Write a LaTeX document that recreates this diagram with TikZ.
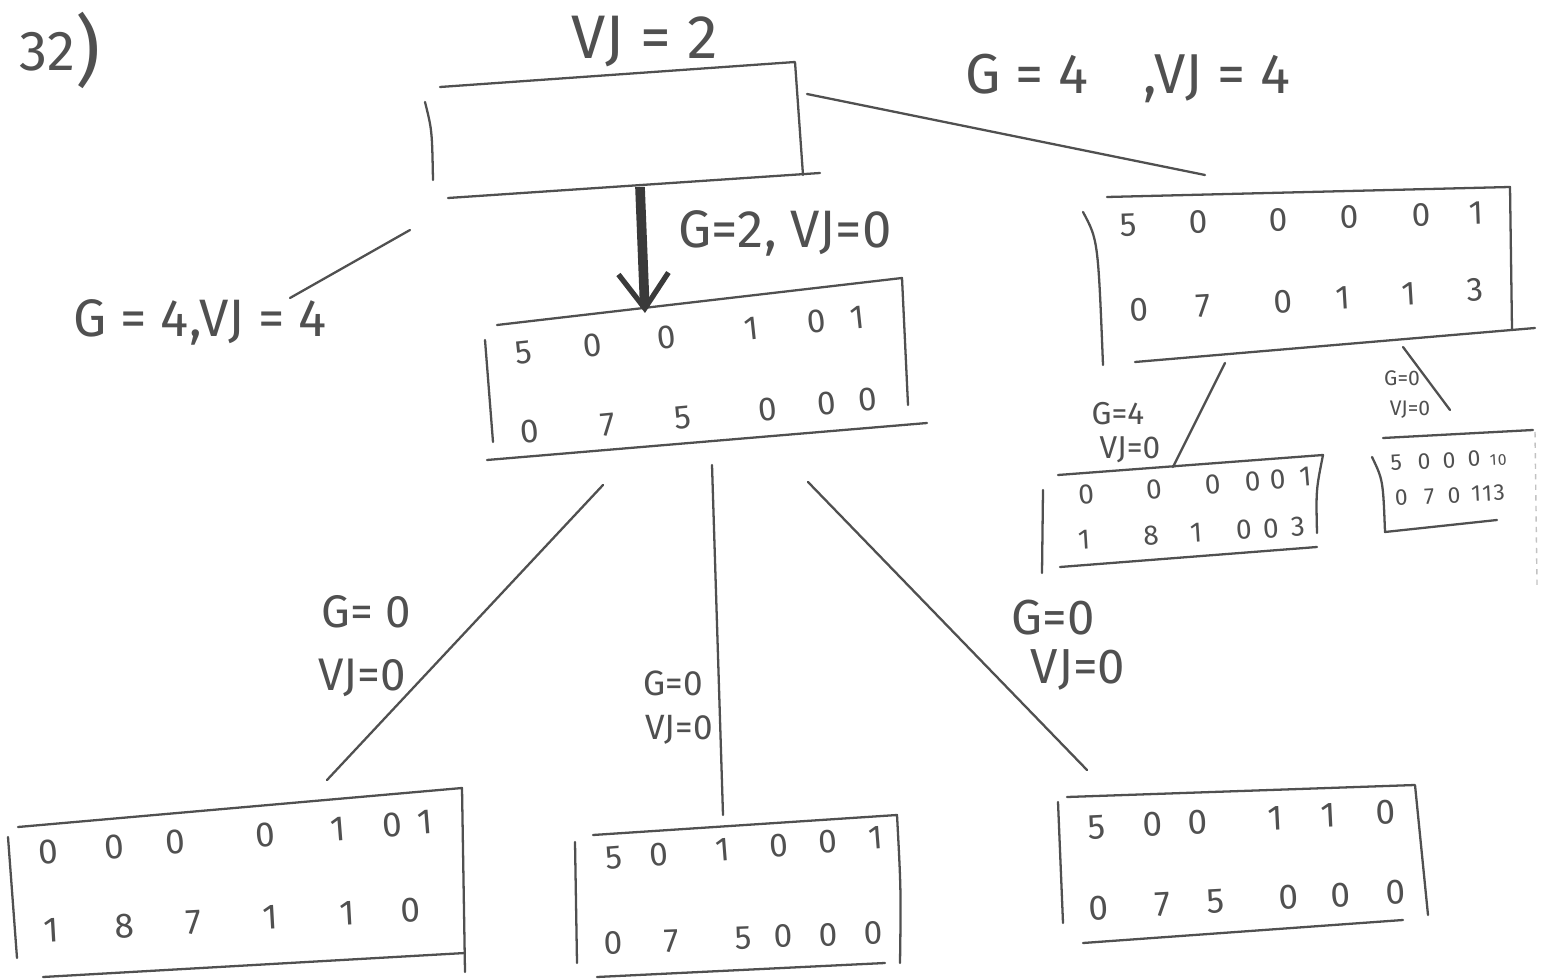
\documentclass[tikz,border=0pt]{standalone}
\usepackage{fontspec}
\setmainfont{Fira Sans}
\usetikzlibrary{arrows.meta}
\definecolor{ink}{HTML}{505050}
\definecolor{dark}{HTML}{3A3A3A}
\newlength\upx
\setlength\upx{0.02cm}
\newcommand\dg[2]{\rlap{\hspace*{#1\upx}\makebox[0pt]{#2}}}
\begin{document}
\begin{tikzpicture}[x=0.02cm,y=-0.02cm,
  pen/.style={draw=ink,line width=1.3pt,line cap=round,line join=round},
  conn/.style={draw=ink,line width=1.3pt,line cap=round},
  digrow/.style={anchor=west,inner sep=0pt,text=ink,font=\fontsize{#1}{#1}\selectfont},
  lbl/.style={inner sep=0pt,text=ink,align=center,font=\fontsize{#1}{#1}\selectfont},
]
\useasboundingbox[fill=white] (0,0) rectangle (1541,979);

% ---------- box outlines ----------
% root
\draw[pen] (440,87) -- (795,62) -- (803,175);
\draw[pen] (425,102) .. controls (432,130) .. (433,180);
\draw[pen] (448,198) -- (820,173);
% middle
\draw[pen] (497,325) -- (902,278) -- (908,405);
\draw[pen] (485,340) -- (493,442);
\draw[pen] (487,460) -- (927,423);
% right
\draw[pen] (1107,197) -- (1510,187) -- (1512,330);
\draw[pen] (1083,212) .. controls (1098,240) .. (1103,365);
\draw[pen] (1135,362) -- (1535,328);
% small left
\draw[pen] (1058,475) -- (1323,455) .. controls (1316,490) .. (1317,533);
\draw[pen] (1043,490) -- (1042,573);
\draw[pen] (1060,567) -- (1317,547);
% small right
\draw[pen] (1383,438) -- (1533,430);
\draw[pen] (1372,457) .. controls (1383,480) .. (1385,532) -- (1497,520);
\draw[draw=ink!35,line width=0.8pt,dashed] (1535,432) -- (1537,585);
% bottom left
\draw[pen] (18,827) -- (462,788) -- (465,972);
\draw[pen] (8,837) -- (17,958);
\draw[pen] (43,977) -- (465,953);
% bottom middle
\draw[pen] (593,835) -- (897,815) .. controls (901,890) .. (900,963);
\draw[pen] (575,842) -- (577,963);
\draw[pen] (597,977) -- (885,963);
% bottom right
\draw[pen] (1067,797) -- (1415,785) -- (1428,915);
\draw[pen] (1058,802) -- (1063,923);
\draw[pen] (1083,943) -- (1403,920);

% ---------- box contents ----------
\node[digrow=19,rotate=6.1] (m1) at (522,353) {\dg{0}{5}\dg{70}{0}\dg{144}{0}\dg{230}{1}\dg{295}{0}\dg{336}{1}};
\node[digrow=19,rotate=5.4] (m2) at (528,432) {\dg{0}{0}\dg{79}{7}\dg{154}{5}\dg{240}{0}\dg{299}{0}\dg{340}{0}};
\node[digrow=19,rotate=2] (r1) at (1127,225) {\dg{0}{5}\dg{70}{0}\dg{150}{0}\dg{221}{0}\dg{293}{0}\dg{348}{1}};
\node[digrow=19,rotate=3.4] (r2) at (1138,310) {\dg{0}{0}\dg{64}{7}\dg{144}{0}\dg{204}{1}\dg{270}{1}\dg{337}{3}};
\node[digrow=16,rotate=4.7] (sl1) at (1085,495) {\dg{0}{0}\dg{68}{0}\dg{127}{0}\dg{167}{0}\dg{192}{0}\dg{220}{1}};
\node[digrow=16,rotate=3.5] (sl2) at (1083,540) {\dg{0}{1}\dg{67}{8}\dg{112}{1}\dg{160}{0}\dg{187}{0}\dg{214}{3}};
\node[digrow=13,rotate=3] (sr1) at (1395,463) {\dg{0}{5}\dg{28}{0}\dg{53}{0}\dg{78}{0}\dg{97}{\fontsize{9}{9}\selectfont 1}\dg{106}{\fontsize{9}{9}\selectfont 0}};
\node[digrow=13,rotate=3] (sr2) at (1400,498) {\dg{0}{0}\dg{28}{7}\dg{53}{0}\dg{75}{1}\dg{86}{1}\dg{98}{3}};
\node[digrow=20,rotate=4.5] (bl1) at (47,852) {\dg{0}{0}\dg{66}{0}\dg{128}{0}\dg{218}{0}\dg{291}{1}\dg{345}{0}\dg{378}{1}};
\node[digrow=20,rotate=3.2] (bl2) at (50,930) {\dg{0}{1}\dg{73}{8}\dg{143}{7}\dg{220}{1}\dg{297}{1}\dg{360}{0}};
\node[digrow=19,rotate=4.4] (bm1) at (613,858) {\dg{0}{5}\dg{45}{0}\dg{109}{1}\dg{165}{0}\dg{214}{0}\dg{262}{1}};
\node[digrow=19,rotate=2.2] (bm2) at (612,943) {\dg{0}{0}\dg{58}{7}\dg{130}{5}\dg{170}{0}\dg{215}{0}\dg{260}{0}};
\node[digrow=20,rotate=2.8] (br1) at (1095,827) {\dg{0}{5}\dg{57}{0}\dg{102}{0}\dg{180}{1}\dg{233}{1}\dg{290}{0}};
\node[digrow=20,rotate=3.1] (br2) at (1097,908) {\dg{0}{0}\dg{65}{7}\dg{118}{5}\dg{191}{0}\dg{243}{0}\dg{298}{0}};

% ---------- connectors ----------
\coordinate (rootR) at (807,94);   \coordinate (rightT) at (1205,175);
\coordinate (rootB) at (640,187);  \coordinate (midT) at (645,313);
\coordinate (stubA) at (410,230);  \coordinate (stubB) at (290,298);
\coordinate (midBL) at (603,485);  \coordinate (blT) at (327,780);
\coordinate (midBM) at (712,465);  \coordinate (bmT) at (723,815);
\coordinate (midBR) at (808,482);  \coordinate (brT) at (1087,770);
\coordinate (rightSL) at (1225,363); \coordinate (slT) at (1173,467);
\coordinate (rightSR) at (1403,347); \coordinate (srT) at (1450,410);

\draw[conn] (rootR) -- (rightT);
\draw[conn] (stubA) -- (stubB);
\draw[conn] (midBL) -- (blT);
\draw[conn] (midBM) -- (bmT);
\draw[conn] (midBR) -- (brT);
\draw[conn] (rightSL) -- (slT);
\draw[conn] (rightSR) -- (srT);
\draw[draw=dark,line width=5.5pt,-{Straight Barb[length=0.7cm,width=1.0cm,line width=3pt]}] (rootB) -- (midT);

% ---------- labels ----------
\node[lbl=32] (num) at (60,50) {32\raisebox{-0.12em}{\fontsize{44}{44}\selectfont)}};
\node[lbl=35] (vjtop) at (645,42) {VJ = 2};
\node[lbl=32] (lr) at (1128,78) {G = 4\hspace{1.1cm},VJ = 4};
\node[lbl=30] (lm) at (785,233) {G=2, VJ=0};
\node[lbl=30] (ll) at (200,322) {G = 4,VJ = 4};
\node[lbl=26] (lbl1) at (366,612) {G= 0};
\node[lbl=26] (lbl2) at (362,678) {VJ=0};
\node[lbl=20] (lbm1) at (673,683) {G=0};
\node[lbl=20] (lbm2) at (679,730) {VJ=0};
\node[lbl=28] (lbr1) at (1053,618) {G=0};
\node[lbl=28] (lbr2) at (1078,670) {VJ=0};
\node[lbl=18] (lsl1) at (1118,414) {G=4};
\node[lbl=18] (lsl2) at (1130,450) {VJ=0};
\node[lbl=12] (lsr1) at (1402,378) {G=0};
\node[lbl=12] (lsr2) at (1410,410) {VJ=0};
\end{tikzpicture}
\end{document}
